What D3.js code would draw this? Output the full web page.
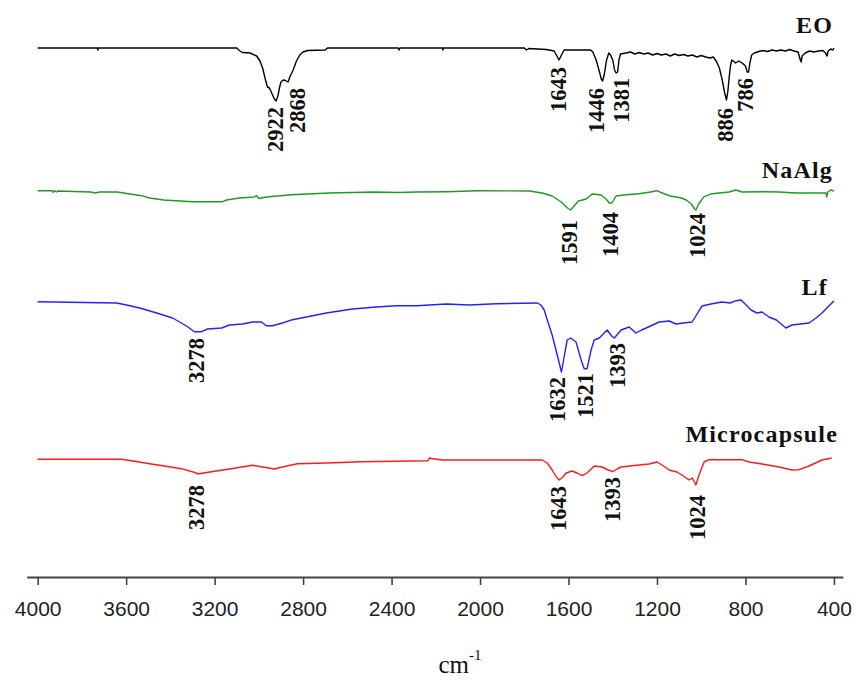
<!DOCTYPE html>
<html>
<head>
<meta charset="utf-8">
<script src="https://cdn.jsdelivr.net/npm/d3@7"></script>
<style>
  html, body { margin: 0; padding: 0; background: #fff; }
  svg { display: block; }
</style>
</head>
<body>
<svg id="chart" width="856" height="680"></svg>
<script>
// ---------------- DATA ----------------
const seriesNames = ["EO", "NaAlg", "Lf", "Microcapsule"];
const tickValues = [4000, 3600, 3200, 2800, 2400, 2000, 1600, 1200, 800, 400];
const axisTitle = "cm";
const axisTitleSup = "-1";

// [wavenumber (cm-1), stacked transmittance (a.u.)]
const eoValues = [
  [4000,106],[3730,106],[3728,105.6],[3726,106],[3100,106],[3085,105.4],[3074,105.1],[3040,105],
  [3010,104.4],[2995,103.4],[2983,102],[2970,99.6],[2961,98.2],[2952,98],[2940,96.8],[2930,95.8],
  [2922,95.4],[2914,96.4],[2906,98.2],[2900,99.2],[2890,99.6],[2880,99.5],[2868,99.2],[2858,100.4],
  [2845,101.6],[2830,103.4],[2815,104.6],[2800,105.2],[2780,105.5],[2700,105.6],[2690,106],
  [2370,106],[2366,105.6],[2362,106],[2170,106],[2168,105.6],[2166,106],[1800,106],[1790,105.6],
  [1780,105.9],[1700,105.7],[1665,105.4],[1655,104.6],[1643,103.6],[1632,104.6],[1620,105.6],
  [1500,105.6],[1490,105.2],[1475,103.6],[1460,101.2],[1452,99.8],[1446,99.4],[1438,100.8],
  [1428,103.6],[1418,105],[1410,104.6],[1400,103.6],[1392,101.6],[1385,101],[1378,101.2],
  [1372,103.6],[1365,104.8],[1340,105],[1320,105.2],[1300,104.8],[1280,105.1],[1260,104.8],
  [1240,105],[1220,104.6],[1200,104.9],[1180,104.6],[1160,104.8],[1140,104.4],[1120,104.8],
  [1100,104.5],[1080,104.7],[1060,104.4],[1040,104.6],[1020,104.2],[1000,104.5],[980,104.2],
  [960,104],[945,104.2],[930,103.2],[918,102],[905,99.6],[895,97.2],[886,95.6],[880,97.2],
  [874,100],[868,102.4],[862,103.6],[855,103.4],[845,103],[830,103.4],[815,103],[800,102.4],
  [792,101.2],[786,101.2],[780,103],[772,104.6],[760,105],[740,105.3],[720,105.5],[700,105.3],
  [680,105.6],[660,105.4],[640,105.6],[620,105.4],[600,105.7],[580,105.4],[562,105.2],
  [552,103.6],[548,103.2],[544,104.4],[530,105],[510,105.4],[490,105.2],[470,105.4],[450,105.5],
  [438,105],[432,104.4],[426,105.4],[415,105.8],[405,105.6],[400,106]
];

const naalgValues = [
  [4000,77.46],[3935,77.46],[3930,77.1],[3925,77.46],[3915,77.2],[3910,77.4],[3760,77.2],
  [3740,77.0],[3720,77.2],[3640,77.2],[3590,76.86],[3530,76.46],[3494,76],[3430,75.6],
  [3300,75.26],[3164,75.26],[3146,75.6],[3088,76],[3020,76.2],[3011,76.5],[3000,75.9],
  [2966,76.2],[2853,76.66],[2681,77],[2478,77.2],[2370,77.1],[2284,77.2],[2153,77.26],
  [2012,77.46],[1778,77.4],[1719,77],[1674,76.4],[1633,75.2],[1605,74],[1591,73.6],[1575,74.4],
  [1555,75.4],[1520,75.8],[1493,76.8],[1470,76.7],[1453,76.6],[1430,75.8],[1416,75],[1404,75],
  [1385,76.4],[1340,76.66],[1281,76.86],[1230,77.2],[1200,77.46],[1177,77],[1140,76.4],
  [1114,76.2],[1090,76],[1068,75.6],[1045,74.8],[1030,73.8],[1024,73.6],[1012,74.8],[987,76.26],
  [951,76.86],[874,77.2],[843,77.6],[816,77.2],[725,77.26],[648,77.2],[572,77],[454,77],
  [436,77],[432,76.2],[428,77.2],[414,77.6],[400,77.4]
];

const lfValues = [
  [4000,55.26],[3643,55],[3598,54.6],[3539,54],[3462,53],[3390,52],[3327,50.4],[3291,49.26],
  [3259,49.26],[3232,49.8],[3168,50],[3133,50.6],[3074,50.8],[3029,51.2],[2988,51.2],
  [2966,50.46],[2939,50.46],[2893,51],[2848,51.66],[2785,52.2],[2695,53],[2636,53.4],
  [2577,53.8],[2469,54.2],[2379,54.46],[2288,54.46],[2229,54.6],[2153,54.8],[2100,54.7],
  [2049,54.6],[1927,54.86],[1741,55],[1725,54.6],[1710,53.6],[1696,51.6],[1674,48.6],
  [1651,44.6],[1632,41.2],[1620,44.2],[1606,47.6],[1590,48],[1566,47.2],[1543,43.6],
  [1529,41.86],[1516,41.86],[1498,45.6],[1484,47.6],[1461,48],[1439,49],[1425,49.6],
  [1405,48.4],[1393,48],[1385,48.4],[1362,49.6],[1326,50.2],[1295,49],[1270,49.6],[1249,50],
  [1220,50.6],[1190,51.2],[1145,51.4],[1114,50.8],[1080,51],[1041,51.2],[1019,52.8],[996,54.4],
  [951,54.86],[906,55.2],[870,55],[843,55.46],[820,55.6],[797,54.6],[775,53.6],[748,53],
  [725,53.2],[694,52.2],[660,51.6],[617,50],[590,50.6],[513,51],[481,52],[454,53],[423,54.4],
  [400,55.4]
];

const microValues = [
  [4000,23.74],[3621,23.74],[3562,23.34],[3494,22.86],[3426,22.4],[3350,21.86],[3282,21],
  [3278,20.8],[3214,21.26],[3155,21.66],[3097,22.06],[3029,22.54],[2984,22.2],[2955,22],
  [2930,21.8],[2893,22.2],[2826,22.86],[2695,23],[2537,23.26],[2235,23.46],[2229,24],
  [2220,23.9],[2171,23.6],[1719,23.6],[1696,23],[1674,21.6],[1655,20.2],[1643,19.6],
  [1625,20.2],[1611,21],[1584,21.4],[1561,21],[1538,20.46],[1516,21],[1484,22.4],[1448,22.2],
  [1420,21.6],[1400,21.26],[1380,21.8],[1362,22.2],[1312,22.46],[1236,22.8],[1200,23.2],
  [1177,22.6],[1145,21.6],[1110,21.2],[1087,20.6],[1055,19.6],[1040,20],[1024,18.6],
  [1010,20.6],[987,23.2],[965,23.66],[816,23.66],[784,23.2],[725,22.8],[648,22.2],[590,21.6],
  [558,21.66],[513,22.4],[454,23.6],[410,24]
];

// peak annotations: [series index, label text, wavenumber]
const peakLabels = [
  [0,"2922",2922],[0,"2868",2868],[0,"1643",1643],[0,"1446",1446],[0,"1381",1381],[0,"886",886],[0,"786",786],
  [1,"1591",1591],[1,"1404",1404],[1,"1024",1024],
  [2,"3278",3278],[2,"1632",1632],[2,"1521",1521],[2,"1393",1393],
  [3,"3278",3278],[3,"1643",1643],[3,"1393",1393],[3,"1024",1024]
];

// ---------------- LAYOUT ----------------
const W = 856, H = 680;
const colors = ["#000000", "#229922", "#2222ff", "#ff1a1a"];
const allSeries = [eoValues, naalgValues, lfValues, microValues];
// label nudges (px): [dx, gap below curve]
const peakLayout = [
  [-1,6],[9,6],[-1,7],[-6.6,7],[4,5.4],[-1.5,8],[-3.6,6],
  [-1.6,10],[-2,9],[1,3],
  [-1.4,6.3],[-4.5,5],[-1,4.3],[2.6,5],
  [-1.4,11],[-1,6],[-2.4,6.2],[1,10]
];
const nameLayout = [[833,33],[833,178],[828,295],[838,442]];

const svg = d3.select("#chart");

const x = d3.scaleLinear().domain([4050, 360]).range([26.6, 842.8]);
const y = d3.scaleLinear().domain([0, 110]).range([578, 28]);
const axisY = 577;

// axis
const axis = d3.axisBottom(x).tickValues(tickValues).tickFormat(d3.format("d"))
  .tickSize(8).tickSizeOuter(0).tickPadding(16);
const gAxis = svg.append("g").attr("transform", `translate(0,${axisY})`).call(axis);
gAxis.select(".domain").attr("stroke", "#444").attr("stroke-width", 2);
gAxis.selectAll(".tick line").attr("stroke", "#444").attr("stroke-width", 1.6);
gAxis.selectAll(".tick text")
  .attr("fill", "#222")
  .attr("font-family", "'Liberation Sans', Arial, sans-serif")
  .attr("font-size", 21);

// axis title
const t = svg.append("text")
  .attr("x", 460).attr("y", 673)
  .attr("text-anchor", "middle")
  .attr("font-family", "'Liberation Serif', 'Times New Roman', serif")
  .attr("font-size", 25)
  .attr("fill", "#111");
t.append("tspan").text(axisTitle);
t.append("tspan").attr("dy", -13).attr("font-size", 15).text(axisTitleSup);

// spectra
const line = d3.line().x(d => x(d[0])).y(d => y(d[1]));
allSeries.forEach((s, i) => {
  svg.append("path")
    .datum(s)
    .attr("d", line)
    .attr("fill", "none")
    .attr("stroke", colors[i])
    .attr("stroke-width", 1.4)
    .attr("stroke-linejoin", "round");
});

// series names
seriesNames.forEach((n, i) => {
  svg.append("text")
    .attr("x", nameLayout[i][0]).attr("y", nameLayout[i][1])
    .attr("text-anchor", "end")
    .attr("font-family", "'Liberation Serif', 'Times New Roman', serif")
    .attr("font-weight", "bold")
    .attr("font-size", 24)
    .attr("letter-spacing", 1.2)
    .attr("fill", "#111")
    .text(n);
});

// interpolation helper for peak label placement
function valueAt(series, wn) {
  for (let k = 0; k < series.length - 1; k++) {
    const a = series[k], b = series[k + 1];
    if ((wn <= a[0] && wn >= b[0])) {
      const tt = (a[0] - wn) / (a[0] - b[0] || 1);
      return a[1] + (b[1] - a[1]) * tt;
    }
  }
  return series[series.length - 1][1];
}

peakLabels.forEach((p, i) => {
  const [si, txt, wn] = p;
  const [dx, gap] = peakLayout[i];
  const px = x(wn) + dx;
  const py = y(valueAt(allSeries[si], wn)) + gap;
  svg.append("text")
    .attr("transform", `translate(${px},${py}) rotate(-90)`)
    .attr("dy", "0.35em")
    .attr("text-anchor", "end")
    .attr("font-family", "'Liberation Serif', 'Times New Roman', serif")
    .attr("font-weight", "bold")
    .attr("font-size", 22.5)
    .attr("fill", "#111")
    .text(txt);
});
</script>
</body>
</html>
